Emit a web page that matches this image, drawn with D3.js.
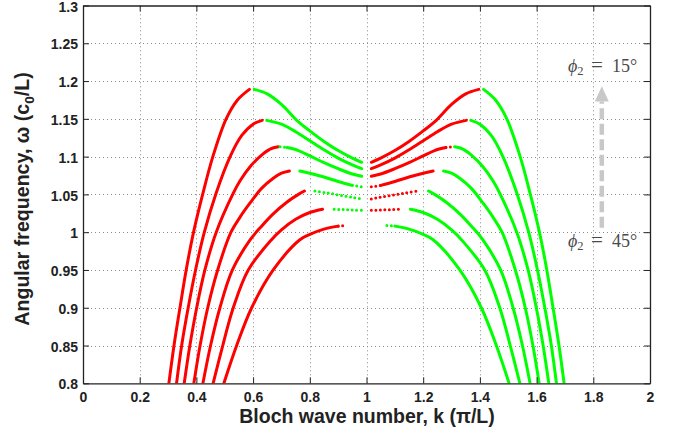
<!DOCTYPE html>
<html><head><meta charset="utf-8">
<script src="https://cdn.jsdelivr.net/npm/d3@7"></script>
<style>body{margin:0;background:#fff;} svg{display:block;}</style>
</head><body>
<svg id="c" width="673" height="433"></svg>
<script>
const xTicks = [0,0.2,0.4,0.6,0.8,1,1.2,1.4,1.6,1.8,2];
const yTicks = [0.8,0.85,0.9,0.95,1,1.05,1.1,1.15,1.2,1.25,1.3];
const xLabel = "Bloch wave number, k (\u03c0/L)";
const yLabelMain = "Angular frequency, \u03c9 (c";
const yLabelSub = "0";
const yLabelEnd = "/L)";
const annotTop = "15\u00b0";
const annotBottom = "45\u00b0";

// curves, [k, omega]; phi2 = 15deg (top) ... 45deg (bottom)
const curve1 = [[0.303,0.80],[0.321,0.85],[0.342,0.90],[0.364,0.95],[0.390,1.00],[0.422,1.05],[0.458,1.10],[0.505,1.15],[0.545,1.175],[0.587,1.189],
  [0.604,1.189],[0.650,1.183],[0.700,1.169],[0.754,1.148],[0.800,1.134],[0.850,1.120],[0.900,1.108],[0.950,1.098],[0.983,1.0925],
  [1.017,1.0925],[1.050,1.098],[1.100,1.108],[1.150,1.120],[1.200,1.134],[1.246,1.148],[1.300,1.169],[1.350,1.183],[1.396,1.189],
  [1.413,1.189],[1.455,1.175],[1.495,1.15],[1.542,1.10],[1.578,1.05],[1.610,1.00],[1.636,0.95],[1.658,0.90],[1.679,0.85],[1.697,0.80]];
const curve2 = [[0.330,0.80],[0.348,0.85],[0.371,0.90],[0.397,0.95],[0.428,1.00],[0.468,1.05],[0.519,1.10],[0.560,1.128],[0.600,1.143],[0.632,1.148],
  [0.648,1.148],[0.700,1.143],[0.750,1.133],[0.800,1.121],[0.850,1.109],[0.900,1.098],[0.950,1.089],[0.983,1.084],
  [1.017,1.084],[1.050,1.089],[1.100,1.098],[1.150,1.109],[1.200,1.121],[1.250,1.133],[1.300,1.143],[1.352,1.148],
  [1.368,1.148],[1.400,1.143],[1.440,1.128],[1.481,1.10],[1.532,1.05],[1.572,1.00],[1.603,0.95],[1.629,0.90],[1.652,0.85],[1.670,0.80]];
const curve3 = [[0.357,0.80],[0.377,0.85],[0.401,0.90],[0.430,0.95],[0.470,1.00],[0.528,1.05],[0.554,1.068],[0.590,1.087],[0.630,1.102],[0.660,1.110],[0.689,1.113],
  [0.695,1.113],[0.720,1.112],[0.760,1.108],[0.800,1.101],[0.850,1.092],[0.900,1.084],[0.950,1.077],[0.983,1.074],
  [1.017,1.074],[1.050,1.077],[1.100,1.084],[1.150,1.092],[1.200,1.101],[1.240,1.108],[1.280,1.112],[1.305,1.113],
  [1.311,1.113],[1.340,1.110],[1.370,1.102],[1.410,1.087],[1.446,1.068],[1.472,1.05],[1.530,1.00],[1.570,0.95],[1.599,0.90],[1.623,0.85],[1.643,0.80]];
const curve4 = [[0.391,0.80],[0.413,0.85],[0.440,0.90],[0.475,0.95],[0.522,1.00],[0.554,1.020],[0.590,1.039],[0.630,1.058],[0.670,1.071],[0.700,1.078],[0.728,1.081],
  [0.765,1.081],[0.800,1.078],[0.850,1.073],[0.900,1.067],[0.950,1.062],[0.983,1.060],
  [1.017,1.060],[1.050,1.062],[1.100,1.067],[1.150,1.073],[1.200,1.078],[1.235,1.081],
  [1.272,1.081],[1.300,1.078],[1.330,1.071],[1.370,1.058],[1.410,1.039],[1.446,1.020],[1.478,1.00],[1.525,0.95],[1.560,0.90],[1.587,0.85],[1.609,0.80]];
const curve5 = [[0.423,0.80],[0.450,0.85],[0.483,0.90],[0.527,0.95],[0.590,0.99],[0.630,1.008],[0.670,1.024],[0.720,1.040],[0.760,1.050],[0.781,1.0545],
  [0.818,1.0545],[0.860,1.052],[0.907,1.049],[0.954,1.046],[0.983,1.044],
  [1.017,1.044],[1.046,1.046],[1.093,1.049],[1.140,1.052],[1.182,1.0545],
  [1.219,1.0545],[1.240,1.050],[1.280,1.040],[1.330,1.024],[1.370,1.008],[1.410,0.99],[1.473,0.95],[1.517,0.90],[1.550,0.85],[1.577,0.80]];
const curve6 = [[0.459,0.80],[0.493,0.85],[0.530,0.90],[0.583,0.95],[0.665,0.99],[0.700,1.003],[0.750,1.017],[0.800,1.026],[0.845,1.0303],
  [0.886,1.0303],[0.907,1.0300],[0.930,1.0297],[0.955,1.0293],[0.983,1.029],
  [1.017,1.029],[1.045,1.0293],[1.070,1.0297],[1.093,1.0300],[1.114,1.0303],
  [1.155,1.0303],[1.200,1.026],[1.250,1.017],[1.300,1.003],[1.335,0.99],[1.417,0.95],[1.470,0.90],[1.507,0.85],[1.541,0.80]];
const curve7 = [[0.497,0.80],[0.542,0.85],[0.595,0.90],[0.671,0.95],[0.765,0.99],[0.800,0.997],[0.850,1.004],[0.900,1.008],[0.928,1.009],
  [1.072,1.009],[1.100,1.008],[1.150,1.004],[1.200,0.997],[1.235,0.99],[1.329,0.95],[1.405,0.90],[1.458,0.85],[1.503,0.80]];
const curves = [curve1, curve2, curve3, curve4, curve5, curve6, curve7];

const W = 673, H = 433;
const m = {left: 83, right: 23, top: 5.5, bottom: 49.7};
const svg = d3.select("#c");
const x = d3.scaleLinear().domain([0,2]).range([m.left, W - m.right]);
const y = d3.scaleLinear().domain([0.8,1.3]).range([H - m.bottom, m.top]);
const fmt = d => String(+d.toFixed(2));

// grid
const grid = svg.append("g").attr("stroke", "#8a8a8a").attr("stroke-width", 1).attr("stroke-dasharray", "1,3");
grid.selectAll(".gx").data(xTicks.slice(1, -1)).join("line")
  .attr("x1", d => Math.round(x(d)) + 0.5).attr("x2", d => Math.round(x(d)) + 0.5)
  .attr("y1", y.range()[0]).attr("y2", y.range()[1]);
grid.selectAll(".gy").data(yTicks.slice(1, -1)).join("line")
  .attr("y1", d => Math.round(y(d)) + 0.5).attr("y2", d => Math.round(y(d)) + 0.5)
  .attr("x1", x.range()[0]).attr("x2", x.range()[1]);

// curves
svg.append("clipPath").attr("id", "clp").append("rect")
  .attr("x", x(0)).attr("y", y(1.3)).attr("width", x(2) - x(0)).attr("height", y(0.8) - y(1.3));
const line = d3.line().x(d => x(d[0])).y(d => y(d[1])).curve(d3.curveCatmullRom.alpha(0.5));
function runs(pts) {
  const out = []; let cur = null;
  for (let i = 1; i < pts.length; i++) {
    const a = pts[i-1], b = pts[i];
    const dw = b[1] - a[1];
    if (dw === 0) { cur = null; continue; }
    const color = dw > 0 ? "#ff0000" : "#00ff00";
    const s = Math.abs((y(b[1]) - y(a[1])) / (x(b[0]) - x(a[0])));
    const style = s < 0.2 ? "dot" : "solid";
    if (cur && cur.color === color && cur.style === style) cur.pts.push(b);
    else { cur = {color, style, pts: [a, b]}; out.push(cur); }
  }
  return out;
}
const cg = svg.append("g").attr("clip-path", "url(#clp)");
curves.forEach(c => {
  runs(c).forEach(r => {
    cg.append("path").attr("d", line(r.pts)).attr("fill", "none")
      .attr("stroke", r.color).attr("stroke-width", 3)
      .attr("stroke-linecap", "round")
      .attr("stroke-dasharray", r.style === "dot" ? "0,4.5" : null);
  });
});

// axes
const tickLen = 6;
const ax = svg.append("g");
const axBottom = ax.append("g").attr("transform", `translate(0,${y(0.8)})`)
  .call(d3.axisBottom(x).tickValues(xTicks).tickFormat(fmt).tickSizeInner(-tickLen).tickSizeOuter(0).tickPadding(9));
const axTop = ax.append("g").attr("transform", `translate(0,${y(1.3)})`)
  .call(d3.axisTop(x).tickValues(xTicks).tickFormat("").tickSizeInner(-tickLen).tickSizeOuter(0));
const axLeft = ax.append("g").attr("transform", `translate(${x(0)},0)`)
  .call(d3.axisLeft(y).tickValues(yTicks).tickFormat(fmt).tickSizeInner(-tickLen).tickSizeOuter(0).tickPadding(5));
const axRight = ax.append("g").attr("transform", `translate(${x(2)},0)`)
  .call(d3.axisRight(y).tickValues(yTicks).tickFormat("").tickSizeInner(-tickLen).tickSizeOuter(0));
[axBottom, axTop, axLeft, axRight].forEach(g => {
  g.select(".domain").attr("stroke", "#222").attr("stroke-width", 1.3);
  g.selectAll(".tick line").attr("stroke", "#222").attr("stroke-width", 1);
  g.selectAll(".tick text").attr("fill", "#222").attr("font-size", 14).attr("font-weight", "bold")
    .attr("font-family", "Liberation Sans, Arial, sans-serif");
});
axLeft.selectAll(".tick text").attr("dy", "0.4em");
axBottom.selectAll(".tick text").attr("dy", "0.68em");

// axis labels
svg.append("text").attr("x", 367).attr("y", 423).attr("text-anchor", "middle")
  .attr("font-family", "Liberation Sans, Arial, sans-serif").attr("font-weight", "bold")
  .attr("font-size", 19.5).attr("fill", "#222").text(xLabel);
const yl = svg.append("text").attr("transform", "translate(29,199) rotate(-90)").attr("text-anchor", "middle")
  .attr("font-family", "Liberation Sans, Arial, sans-serif").attr("font-weight", "bold")
  .attr("font-size", 19.6).attr("fill", "#222");
yl.append("tspan").text(yLabelMain);
yl.append("tspan").attr("font-size", 13.5).attr("dy", 5).text(yLabelSub);
yl.append("tspan").attr("dy", -5).text(yLabelEnd);

// annotation arrow
const arrowX = x(1.83);
svg.append("line").attr("x1", arrowX).attr("x2", arrowX).attr("y1", y(1.006)).attr("y2", y(1.173))
  .attr("stroke", "#c8c8c8").attr("stroke-width", 4.5).attr("stroke-dasharray", "11,4.5");
svg.append("path")
  .attr("d", `M${arrowX},${y(1.193)} L${arrowX - 7},${y(1.173)} L${arrowX + 7},${y(1.173)} Z`)
  .attr("fill", "#c8c8c8");

function phiLabel(ypx, val) {
  const t = svg.append("text").attr("y", ypx)
    .attr("font-family", "Liberation Serif, Times New Roman, serif").attr("font-size", 18).attr("fill", "#4a4a4a");
  t.append("tspan").attr("x", 568).attr("font-style", "italic").text("\u03d5");
  t.append("tspan").attr("font-size", 12.5).attr("dy", 3).text("2");
  t.append("tspan").attr("x", 591).attr("dy", -3).attr("font-size", 21).text("=");
  t.append("tspan").attr("x", 612).text(val);
}
phiLabel(72, annotTop);
phiLabel(246.5, annotBottom);
</script>
</body></html>
